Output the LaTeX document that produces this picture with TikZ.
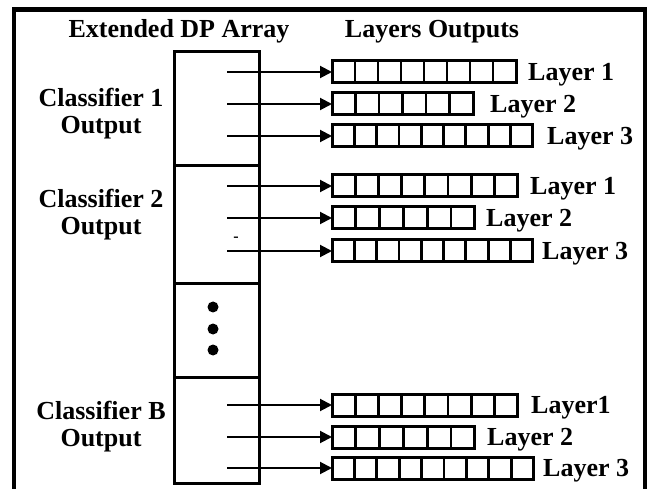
\documentclass[tikz,border=0pt]{standalone}
\usepackage{fontspec}
\setmainfont{Liberation Serif}
\usetikzlibrary{arrows.meta}
\tikzset{
  lbl/.style={font=\fontsize{26}{27}\selectfont\bfseries, inner sep=0pt, align=center},
  cellbox/.style={draw, line width=3pt, minimum height=22pt, inner sep=0pt, outer sep=0pt},
  cellline/.style={line width=2.8pt},
  arr/.style={line width=2pt, -{Triangle[length=12pt,width=12pt]}},
  colbox/.style={draw, line width=3pt, inner sep=0pt, outer sep=0pt},
  colline/.style={line width=3pt},
  dotn/.style={circle, fill, inner sep=0pt, minimum size=11pt},
}
\newcommand{\layerbar}[4]{%
  \node[cellbox, anchor=west, minimum width={#3*#4pt}] (#1) at (332,#2) {};
  \pgfmathtruncatemacro\lastk{#3-1}%
  \foreach \k in {1,...,\lastk}{%
    \draw[cellline] ([xshift={\k*#4pt}]#1.south west) -- ([xshift={\k*#4pt}]#1.north west);}%
}
\begin{document}
\begin{tikzpicture}[x=1pt,y=-1pt]
\useasboundingbox (0,0) rectangle (651,489);
\clip (0,0) rectangle (651,489);
\fill[white] (0,0) rectangle (651,489);
% outer frame (open at the bottom)
\draw[line width=4.5pt] (14,500) -- (14,9.5) -- (645,9.5) -- (645,500);

% headers
\node[lbl, anchor=base] (h1) at (179,38) {Extended DP Array};
\node[lbl, anchor=base] (h2) at (432,38) {Layers Outputs};

% DP array column
\node[colbox, anchor=north west, minimum width=85pt, minimum height=431pt] (col) at (174,52) {};
\coordinate (d1) at (0,166);
\coordinate (d2) at (0,284);
\coordinate (d3) at (0,377);
\draw[colline] (col.west |- d1) -- (col.east |- d1);
\draw[colline] (col.west |- d2) -- (col.east |- d2);
\draw[colline] (col.west |- d3) -- (col.east |- d3);

% classifier labels
\node[lbl] (c1) at (101,114) {Classifier 1\\Output};
\node[lbl] (c2) at (101,215) {Classifier 2\\Output};
\node[lbl] (cb) at (101,427) {Classifier B\\Output};

% dots
\node[dotn] (dt1) at (213,307) {};
\node[dotn] (dt2) at (213,329) {};
\node[dotn] (dt3) at (213,350) {};

% small dash
\node[font=\bfseries\fontsize{16}{16}\selectfont, inner sep=0pt] (dash) at (236,239) {-};

% layer bars
\layerbar{a1}{72}{8}{23}
\layerbar{a2}{104}{6}{23.5}
\layerbar{a3}{136}{9}{22.3}
\layerbar{b1}{186}{8}{23.2}
\layerbar{b2}{218}{6}{23.8}
\layerbar{b3}{251}{9}{22.3}
\layerbar{e1}{405}{8}{23.2}
\layerbar{e2}{437}{6}{23.8}
\layerbar{e3}{468}{9}{22.4}

% arrow starts
\coordinate (sa1) at (227,72);
\coordinate (sa2) at (227,104);
\coordinate (sa3) at (227,136);
\coordinate (sb1) at (227,186);
\coordinate (sb2) at (227,218);
\coordinate (sb3) at (227,251);
\coordinate (se1) at (227,405);
\coordinate (se2) at (227,437);
\coordinate (se3) at (227,468);
\foreach \n in {a1,a2,a3,b1,b2,b3,e1,e2,e3}{\draw[arr] (s\n) -- (\n.west);}

% layer labels
\node[lbl, anchor=base west] (la1) at (528,80.5) {Layer 1};
\node[lbl, anchor=base west] (la2) at (490,112.5) {Layer 2};
\node[lbl, anchor=base west] (la3) at (547,144.5) {Layer 3};
\node[lbl, anchor=base west] (lb1) at (530,194.5) {Layer 1};
\node[lbl, anchor=base west] (lb2) at (486,226.5) {Layer 2};
\node[lbl, anchor=base west] (lb3) at (542,259.5) {Layer 3};
\node[lbl, anchor=base west] (le1) at (531,413.5) {Layer1};
\node[lbl, anchor=base west] (le2) at (487,445.5) {Layer 2};
\node[lbl, anchor=base west] (le3) at (543,476.5) {Layer 3};
\end{tikzpicture}
\end{document}
